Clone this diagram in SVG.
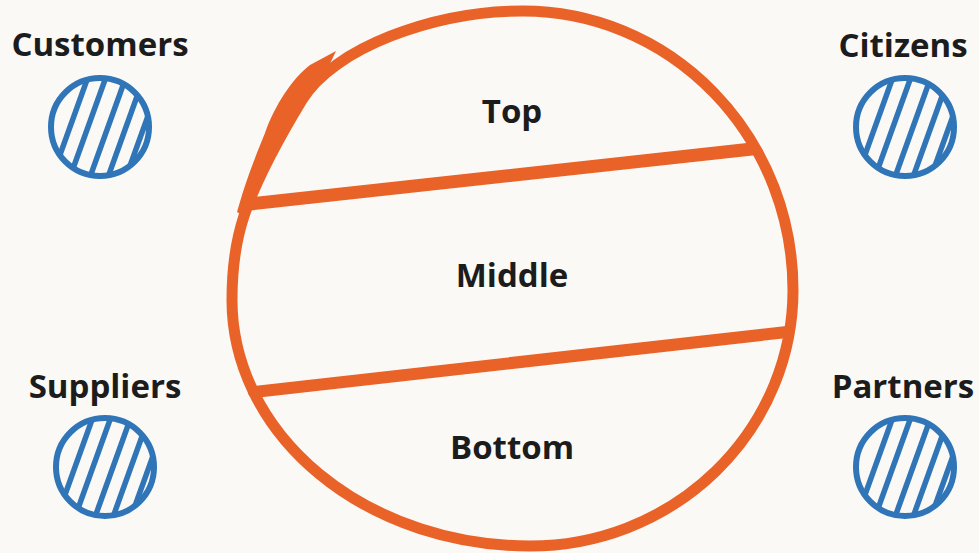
<svg xmlns="http://www.w3.org/2000/svg" xmlns:xlink="http://www.w3.org/1999/xlink" width="979" height="553" viewBox="0 0 979 553">
<style>
.lbl{font-family:"Open Sans","Noto Sans","Liberation Sans",sans-serif;font-weight:700;fill:#1c1c1c;text-anchor:middle}
.outer{font-size:33px}
.inner{font-size:33px}
.orange{fill:none;stroke:#e96228;stroke-linecap:round;stroke-linejoin:round}
.hatch{stroke:#2f75b7;stroke-width:5.5;fill:none}
.ring{fill:none;stroke:#2f75b7;stroke-width:6}
</style>
<defs>
<clipPath id="clip"><circle cx="0" cy="0" r="49"/></clipPath>
<g id="ball">
<g clip-path="url(#clip)" class="hatch">
<line x1="-8.4" y1="-60" x2="-51.6" y2="60"/>
<line x1="9.6" y1="-60" x2="-33.6" y2="60"/>
<line x1="29.6" y1="-60" x2="-13.6" y2="60"/>
<line x1="47.6" y1="-60" x2="4.4" y2="60"/>
<line x1="65.6" y1="-60" x2="22.4" y2="60"/>
</g>
<circle class="ring" cx="0" cy="0" r="49"/>
</g>
</defs>
<rect width="979" height="553" fill="#faf9f6"/>

<g id="connectors">
<path id="loop" class="orange" stroke-width="11" d="M232,300 C232,265 236,240 244,216 C254,186 276,143 302,100 C333,48.6 433,11 523,11 A270,279 0 0 1 793,290 A263,256 0 0 1 530,546 A298,246 0 0 1 232,300 Z"/>
<path id="brush" fill="#e96228" d="M336,51 L310,65 C292,79 275,105 265,133 C258,150 250,170 242,195 L237,212 L244,216 C254,186 276,143 302,100 C310,88 317,80 326,72 Z"/>
<line id="top-line" class="orange" stroke-width="13" x1="250" y1="204" x2="752" y2="149"/>
<line id="bottom-line" class="orange" stroke-width="12" x1="254" y1="392" x2="787" y2="332"/>
</g>

<g id="top"><text class="lbl inner" x="512" y="123">Top</text></g>
<g id="middle"><text class="lbl inner" x="512" y="287">Middle</text></g>
<g id="bottom"><text class="lbl inner" x="512" y="459">Bottom</text></g>

<g id="customers">
<text class="lbl outer" x="100" y="56">Customers</text>
<use xlink:href="#ball" x="100" y="127"/>
</g>
<g id="citizens">
<text class="lbl outer" x="903" y="57">Citizens</text>
<use xlink:href="#ball" x="905" y="127"/>
</g>
<g id="suppliers">
<text class="lbl outer" x="105" y="398">Suppliers</text>
<use xlink:href="#ball" x="105" y="467"/>
</g>
<g id="partners">
<text class="lbl outer" x="903" y="398">Partners</text>
<use xlink:href="#ball" x="905" y="467"/>
</g>
</svg>
